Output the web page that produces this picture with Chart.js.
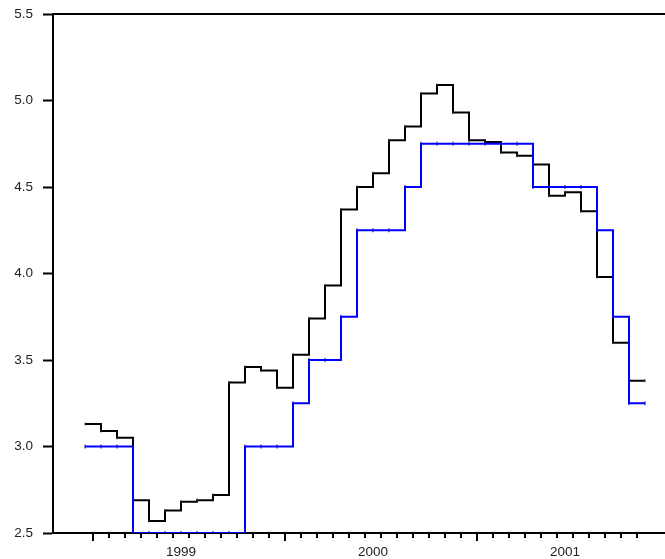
<!DOCTYPE html>
<html>
<head>
<meta charset="utf-8">
<script src="https://cdn.jsdelivr.net/npm/chart.js@4.4.1/dist/chart.umd.min.js"></script>
<style>
    html, body { margin: 0; padding: 0; background: #fff; }
    canvas { display: block; }
</style>
</head>
<body>
<canvas id="rateChart" width="665" height="559"></canvas>
<script>
// Monthly rates, Jan 1999 .. Nov 2001
const YEARS = ['1999', '2000', '2001'];

const EURIBOR_3M = [
    3.13, 3.09, 3.05, 2.69, 2.57, 2.63, 2.68, 2.69, 2.72, 3.37, 3.46, 3.44,
    3.34, 3.53, 3.74, 3.93, 4.37, 4.50, 4.58, 4.77, 4.85, 5.04, 5.09, 4.93,
    4.77, 4.76, 4.70, 4.68, 4.63, 4.45, 4.47, 4.36, 3.98, 3.60, 3.38
];

const REFI_RATE = [
    3.00, 3.00, 3.00, 2.50, 2.50, 2.50, 2.50, 2.50, 2.50, 2.50, 3.00, 3.00,
    3.00, 3.25, 3.50, 3.50, 3.75, 4.25, 4.25, 4.25, 4.50, 4.75, 4.75, 4.75,
    4.75, 4.75, 4.75, 4.75, 4.50, 4.50, 4.50, 4.50, 4.25, 3.75, 3.25
];

const Y_TICKS = [2.5, 3.0, 3.5, 4.0, 4.5, 5.0, 5.5];

// each month is a flat step; one extra point closes the last month
function toSteps(values) {
    const pts = values.map((v, i) => ({ x: i, y: v }));
    pts.push({ x: values.length, y: values[values.length - 1] });
    return pts;
}

// month tick marks under the axis, longer at each January
const monthTicks = {
    id: 'monthTicks',
    afterDraw(chart) {
        const ctx = chart.ctx;
        const xs = chart.scales.x;
        const area = chart.chartArea;
        ctx.save();
        ctx.strokeStyle = '#000';
        ctx.lineWidth = 2;
        for (let i = 0; i < EURIBOR_3M.length; i++) {
            const px = Math.round(xs.getPixelForValue(i + 0.5));
            const len = i % 12 === 0 ? 8 : 5;
            ctx.beginPath();
            ctx.moveTo(px, area.bottom);
            ctx.lineTo(px, area.bottom + len);
            ctx.stroke();
        }
        // top frame line
        ctx.beginPath();
        ctx.moveTo(area.left, area.top);
        ctx.lineTo(chart.width, area.top);
        ctx.stroke();
        ctx.restore();
    }
};

Chart.defaults.font.family = '"Liberation Sans", Arial, sans-serif';
Chart.defaults.font.size = 13.5;
Chart.defaults.color = '#222';

new Chart(document.getElementById('rateChart').getContext('2d'), {
    type: 'line',
    data: {
        datasets: [
            {
                label: 'Refi rate',
                data: toSteps(REFI_RATE),
                stepped: true,
                borderColor: '#0000ff',
                borderWidth: 2,
                pointStyle: 'line',
                rotation: 90,
                pointRadius: 2,
                pointBorderWidth: 1,
                pointBorderColor: '#0000cc',
                fill: false
            },
            {
                label: '3M rate',
                data: toSteps(EURIBOR_3M),
                stepped: true,
                borderColor: '#000',
                borderWidth: 2,
                pointStyle: 'line',
                rotation: 90,
                pointRadius: 1.5,
                pointBorderWidth: 1,
                pointBorderColor: '#333',
                fill: false
            }
        ]
    },
    options: {
        responsive: false,
        animation: false,
        devicePixelRatio: 1,
        layout: {
            autoPadding: false,
            padding: { top: 14, right: 0, left: 0, bottom: 0 }
        },
        plugins: {
            legend: { display: false },
            tooltip: { enabled: false }
        },
        scales: {
            x: {
                type: 'linear',
                min: -2,
                max: 36.25,
                afterBuildTicks: (scale) => {
                    scale.ticks = YEARS.map((y, k) => ({ value: k * 12 + 6 }));
                },
                afterFit: (scale) => {
                    scale.height = 26;
                    scale.paddingLeft = 0;
                    scale.paddingRight = 0;
                },
                ticks: {
                    padding: 3,
                    maxRotation: 0,
                    autoSkip: false,
                    callback: (v) => YEARS[(v - 6) / 12]
                },
                grid: { display: false },
                border: { display: true, color: '#000', width: 2 }
            },
            y: {
                min: 2.5,
                max: 5.5,
                afterBuildTicks: (scale) => {
                    scale.ticks = Y_TICKS.map(v => ({ value: v }));
                },
                afterFit: (scale) => {
                    scale.width = 53;
                    scale.paddingTop = 0;
                    scale.paddingBottom = 0;
                },
                ticks: {
                    padding: 10,
                    callback: (v) => v.toFixed(1)
                },
                grid: {
                    drawOnChartArea: false,
                    drawTicks: true,
                    tickLength: 10,
                    tickColor: '#000',
                    tickWidth: 2
                },
                border: { display: true, color: '#000', width: 2 }
            }
        }
    },
    plugins: [monthTicks]
});
</script>
</body>
</html>
